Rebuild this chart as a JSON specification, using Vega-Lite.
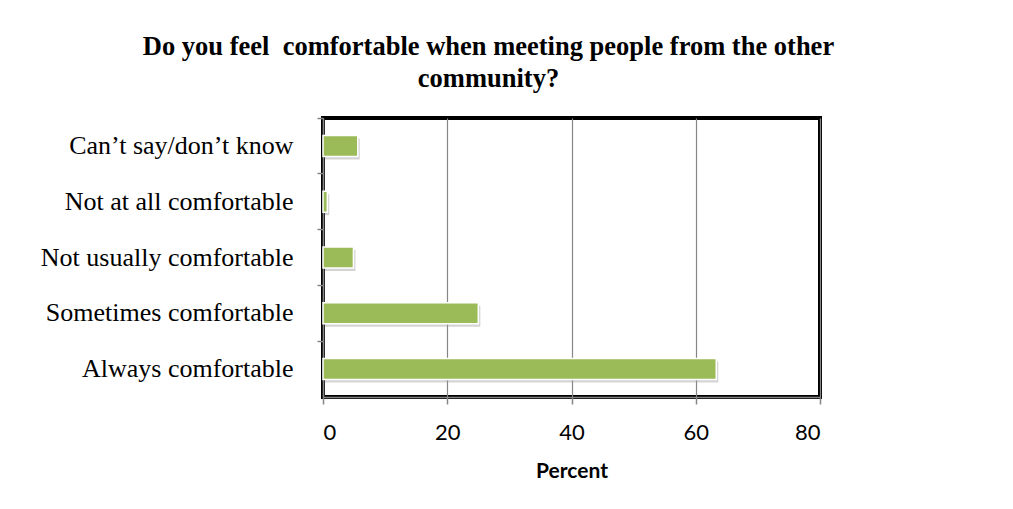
{
  "$schema": "https://vega.github.io/schema/vega-lite/v6.json",
  "autosize": {"type": "none"},
  "padding": {"left": 323, "top": 118, "right": 193, "bottom": 112},
  "width": 497,
  "height": 279,
  "background": "white",
  "view": {"stroke": "black", "strokeWidth": 4},
  "title": {
    "text": ["Do you feel\u00a0 comfortable when meeting people from the other", "community?"],
    "font": "Liberation Serif",
    "fontSize": 26.5,
    "fontWeight": "bold",
    "color": "black",
    "anchor": "middle",
    "frame": "group",
    "dx": -83,
    "offset": 25,
    "lineHeight": 32
  },
  "data": {
    "values": [
      {"response": "Can’t say/don’t know", "percent": 5.6},
      {"response": "Not at all comfortable", "percent": 0.7},
      {"response": "Not usually comfortable", "percent": 4.9},
      {"response": "Sometimes comfortable", "percent": 25},
      {"response": "Always comfortable", "percent": 63.3}
    ]
  },
  "encoding": {
    "y": {
      "field": "response",
      "type": "nominal",
      "sort": null,
      "scale": {"padding": 0},
      "axis": {
        "title": null,
        "bandPosition": 0,
        "labelFont": "Liberation Serif",
        "labelFontSize": 26,
        "labelColor": "black",
        "labelPadding": 24,
        "tickSize": 6,
        "tickColor": "#868686",
        "tickWidth": 1.5,
        "domainColor": "#868686",
        "domainWidth": 1.5,
        "grid": false,
        "labelLimit": 400
      }
    },
    "x": {
      "field": "percent",
      "type": "quantitative",
      "scale": {"domain": [0, 80], "nice": false},
      "axis": {
        "title": "Percent",
        "values": [0, 20, 40, 60, 80],
        "labelFont": "Lato",
        "labelFontSize": 22,
        "labelColor": "black",
        "labelPadding": 18,
        "tickSize": 7,
        "tickColor": "#868686",
        "tickWidth": 1.5,
        "domainColor": "#868686",
        "domainWidth": 1.5,
        "grid": true,
        "gridColor": "#868686",
        "gridWidth": 1.2,
        "titleFont": "Lato",
        "titleFontSize": 21,
        "titleFontWeight": "bold",
        "titleColor": "black",
        "titlePadding": 17
      }
    }
  },
  "layer": [
    {
      "mark": {"type": "bar", "size": 21, "color": "#9f9f9f", "opacity": 0.45, "xOffset": 2, "yOffset": 3}
    },
    {
      "mark": {"type": "bar", "size": 21, "color": "#9BBB59", "stroke": "white", "strokeWidth": 1.5}
    }
  ],
  "config": {
    "view": {"stroke": "black", "strokeWidth": 4}
  }
}
